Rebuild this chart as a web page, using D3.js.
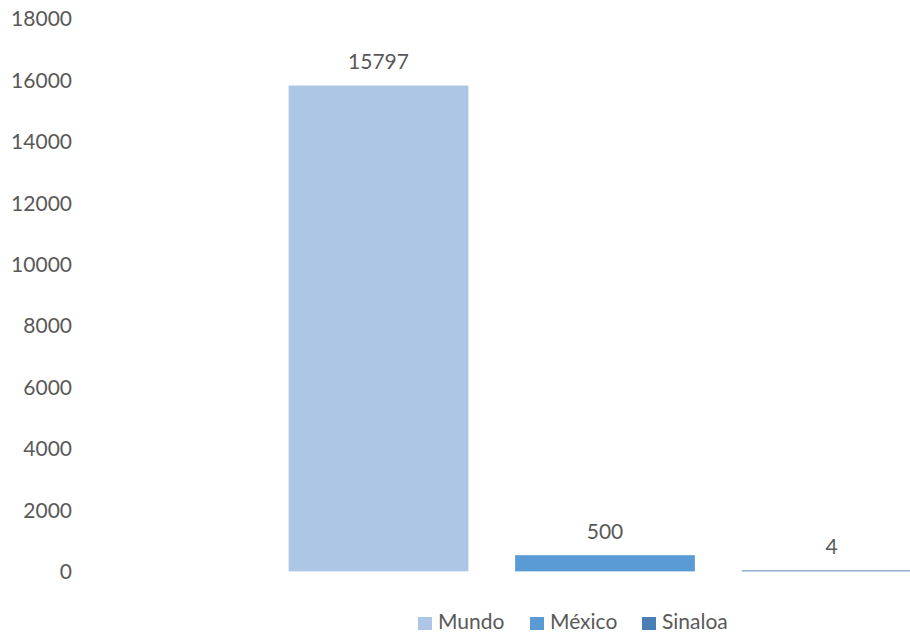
<!DOCTYPE html>
<html>
<head>
<meta charset="utf-8">
<script src="https://cdn.jsdelivr.net/npm/d3@7"></script>
<style>
  html, body { margin: 0; padding: 0; background: #ffffff; }
  svg { display: block; }
  text { font-family: Lato, "Open Sans", sans-serif; fill: #595959; }
</style>
</head>
<body>
<svg id="chart" width="910" height="634"></svg>
<script>
// Series shown as individual bars
const seriesNames = ["Mundo", "México", "Sinaloa"];
const seriesValues = [15797, 500, 4];
const seriesColors = ["#adc6e5", "#5b9bd5", "#4a7eb4"];
const yTicks = [0, 2000, 4000, 6000, 8000, 10000, 12000, 14000, 16000, 18000];

const svg = d3.select("#chart");
const W = 910, H = 634;

const y = d3.scaleLinear().domain([0, 18000]).range([571, 18.3]);
const x = d3.scaleBand()
  .domain(seriesNames)
  .range([241.5, 968.5])
  .padding(0.2097);

// Value axis: labels only, no line or ticks
const yAxis = d3.axisLeft(y).tickValues(yTicks).tickSize(0).tickPadding(0).tickFormat(d3.format("d"));
const gy = svg.append("g").attr("transform", "translate(72,0)").call(yAxis);
gy.select(".domain").remove();
gy.selectAll("text")
  .style("font-family", "Lato, 'Open Sans', sans-serif")
  .style("font-size", "21px")
  .attr("fill", "#595959")
  .attr("dy", "0.36em");

// Bars
svg.append("g").selectAll("rect")
  .data(seriesNames)
  .join("rect")
  .attr("x", (d) => x(d))
  .attr("width", x.bandwidth())
  .attr("y", (d, i) => y(seriesValues[i]))
  .attr("height", (d, i) => y(0) - y(seriesValues[i]))
  .attr("fill", (d, i) => seriesColors[i])
  .attr("stroke", (d, i) => seriesColors[i])
  .attr("stroke-width", 0.75);

// Value labels above each bar
svg.append("g").selectAll("text")
  .data(seriesNames)
  .join("text")
  .attr("x", (d) => x(d) + x.bandwidth() / 2)
  .attr("y", (d, i) => y(seriesValues[i]) - 17)
  .attr("text-anchor", "middle")
  .style("font-size", "21px")
  .text((d, i) => seriesValues[i]);

// Legend
const legendX = [418, 530, 642];
const lg = svg.append("g").selectAll("g")
  .data(seriesNames)
  .join("g")
  .attr("transform", (d, i) => `translate(${legendX[i]},617)`);
lg.append("rect")
  .attr("width", 14).attr("height", 13)
  .attr("fill", (d, i) => seriesColors[i]);
lg.append("text")
  .attr("x", 20).attr("y", 12)
  .style("font-size", "21px")
  .text((d) => d);
</script>
</body>
</html>
